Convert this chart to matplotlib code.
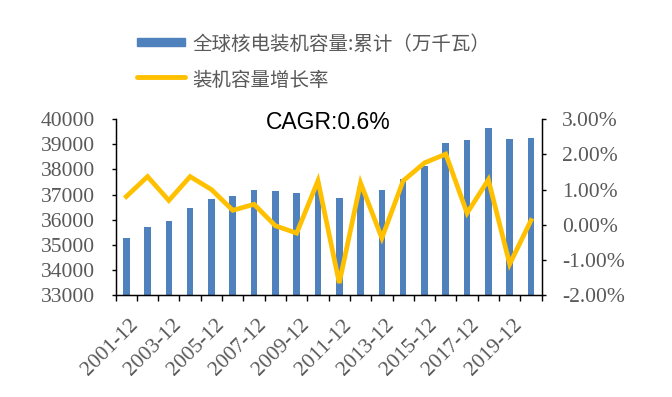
import matplotlib
matplotlib.use("Agg")
import matplotlib.pyplot as plt
import matplotlib.transforms as mtransforms
from matplotlib.lines import Line2D
from matplotlib.patches import Rectangle
from matplotlib.ticker import FixedLocator, FuncFormatter

years = ["2001-12", "2002-12", "2003-12", "2004-12", "2005-12", "2006-12", "2007-12",
         "2008-12", "2009-12", "2010-12", "2011-12", "2012-12", "2013-12", "2014-12",
         "2015-12", "2016-12", "2017-12", "2018-12", "2019-12", "2020-12"]
capacity = [35260, 35720, 35960, 36470, 36810, 36940, 37170, 37140, 37050, 37450,
            36870, 37300, 37170, 37610, 38150, 39040, 39180, 39650, 39200, 39250]
growth = [0.80, 1.37, 0.69, 1.37, 1.00, 0.41, 0.58, -0.03, -0.24, 1.25,
          -1.66, 1.19, -0.38, 1.25, 1.76, 2.01, 0.33, 1.28, -1.12, 0.12]
left_ticks = [33000, 34000, 35000, 36000, 37000, 38000, 39000, 40000]
right_ticks = [-2, -1, 0, 1, 2, 3]
bar_label = "全球核电装机容量:累计（万千瓦）"
line_label = "装机容量增长率"
cagr_text = "CAGR:0.6%"

BLUE = "#4F81BD"
GOLD = "#FFC000"
GRAY = "#595959"
SERIF = ["Liberation Serif", "DejaVu Serif"]
CJK = ["Noto Sans CJK SC", "DejaVu Sans"]
TICK_FS = 15.5

fig = plt.figure(figsize=(6.72, 3.97), dpi=100)
ax = fig.add_axes([0.172, 0.257, 0.634, 0.4425])
x = list(range(len(years)))
ax.bar(x, capacity, width=0.31, color=BLUE, zorder=2)
ax.set_xlim(-0.5, len(years) - 0.5)
ax.set_ylim(33000, 40000)
ax.set_yticks(left_ticks)
ax.set_yticklabels([str(v) for v in left_ticks], family=SERIF, fontsize=TICK_FS, color=GRAY)
ax.tick_params(axis="y", direction="out", length=3, width=1, pad=12, colors="black", labelcolor=GRAY)

ax.set_xticks(x[::2])
ax.set_xticklabels(years[::2], rotation=45, ha="right", rotation_mode="anchor",
                   family=SERIF, fontsize=TICK_FS, color=GRAY)
ax.xaxis.set_minor_locator(FixedLocator([i - 0.5 for i in range(len(years) + 1)]))
ax.tick_params(axis="x", which="major", length=0, pad=15)
ax.tick_params(axis="x", which="minor", direction="out", length=4, width=1, color="black")
shift = mtransforms.ScaledTranslation(3 / 100, 0, fig.dpi_scale_trans)
for lab in ax.get_xticklabels():
    lab.set_transform(lab.get_transform() + shift)

ax.spines["top"].set_visible(False)
for s in ["left", "bottom", "right"]:
    ax.spines[s].set_color("black")
    ax.spines[s].set_linewidth(1)

ax2 = ax.twinx()
ax2.plot(x, growth, color=GOLD, lw=3.4, solid_joinstyle="miter", zorder=3)
ax2.set_ylim(-2, 3)
ax2.set_yticks(right_ticks)
ax2.yaxis.set_major_formatter(FuncFormatter(lambda v, p: f"{v:.2f}%"))
ax2.tick_params(axis="y", direction="out", length=3, width=1, pad=11.5, colors="black",
                labelcolor=GRAY, labelsize=TICK_FS)
for lab in ax2.get_yticklabels():
    lab.set_family(SERIF)
ax2.spines["top"].set_visible(False)
ax2.spines["right"].set_color("black")

ax.text(0.5, 1.0 - 3 / 175.7, cagr_text, transform=ax.transAxes, ha="center", va="center",
        fontsize=16.5, family=["Liberation Sans", "DejaVu Sans"], color="black", zorder=5)

W, H = 672, 397
fig.patches.append(Rectangle((137 / W, 1 - 46 / H), 48 / W, 8 / H, transform=fig.transFigure,
                             color=BLUE))
fig.lines.append(Line2D([137 / W, 185 / W], [1 - 77 / H] * 2, transform=fig.transFigure,
                        color=GOLD, lw=3.5, solid_capstyle="round"))
fig.text(192 / W, 1 - 44 / H, bar_label, family=CJK, fontsize=14, color=GRAY, va="center", ha="left")
fig.text(192 / W, 1 - 80 / H, line_label, family=CJK, fontsize=14, color=GRAY, va="center", ha="left")

fig.savefig("out.png", dpi=100)
